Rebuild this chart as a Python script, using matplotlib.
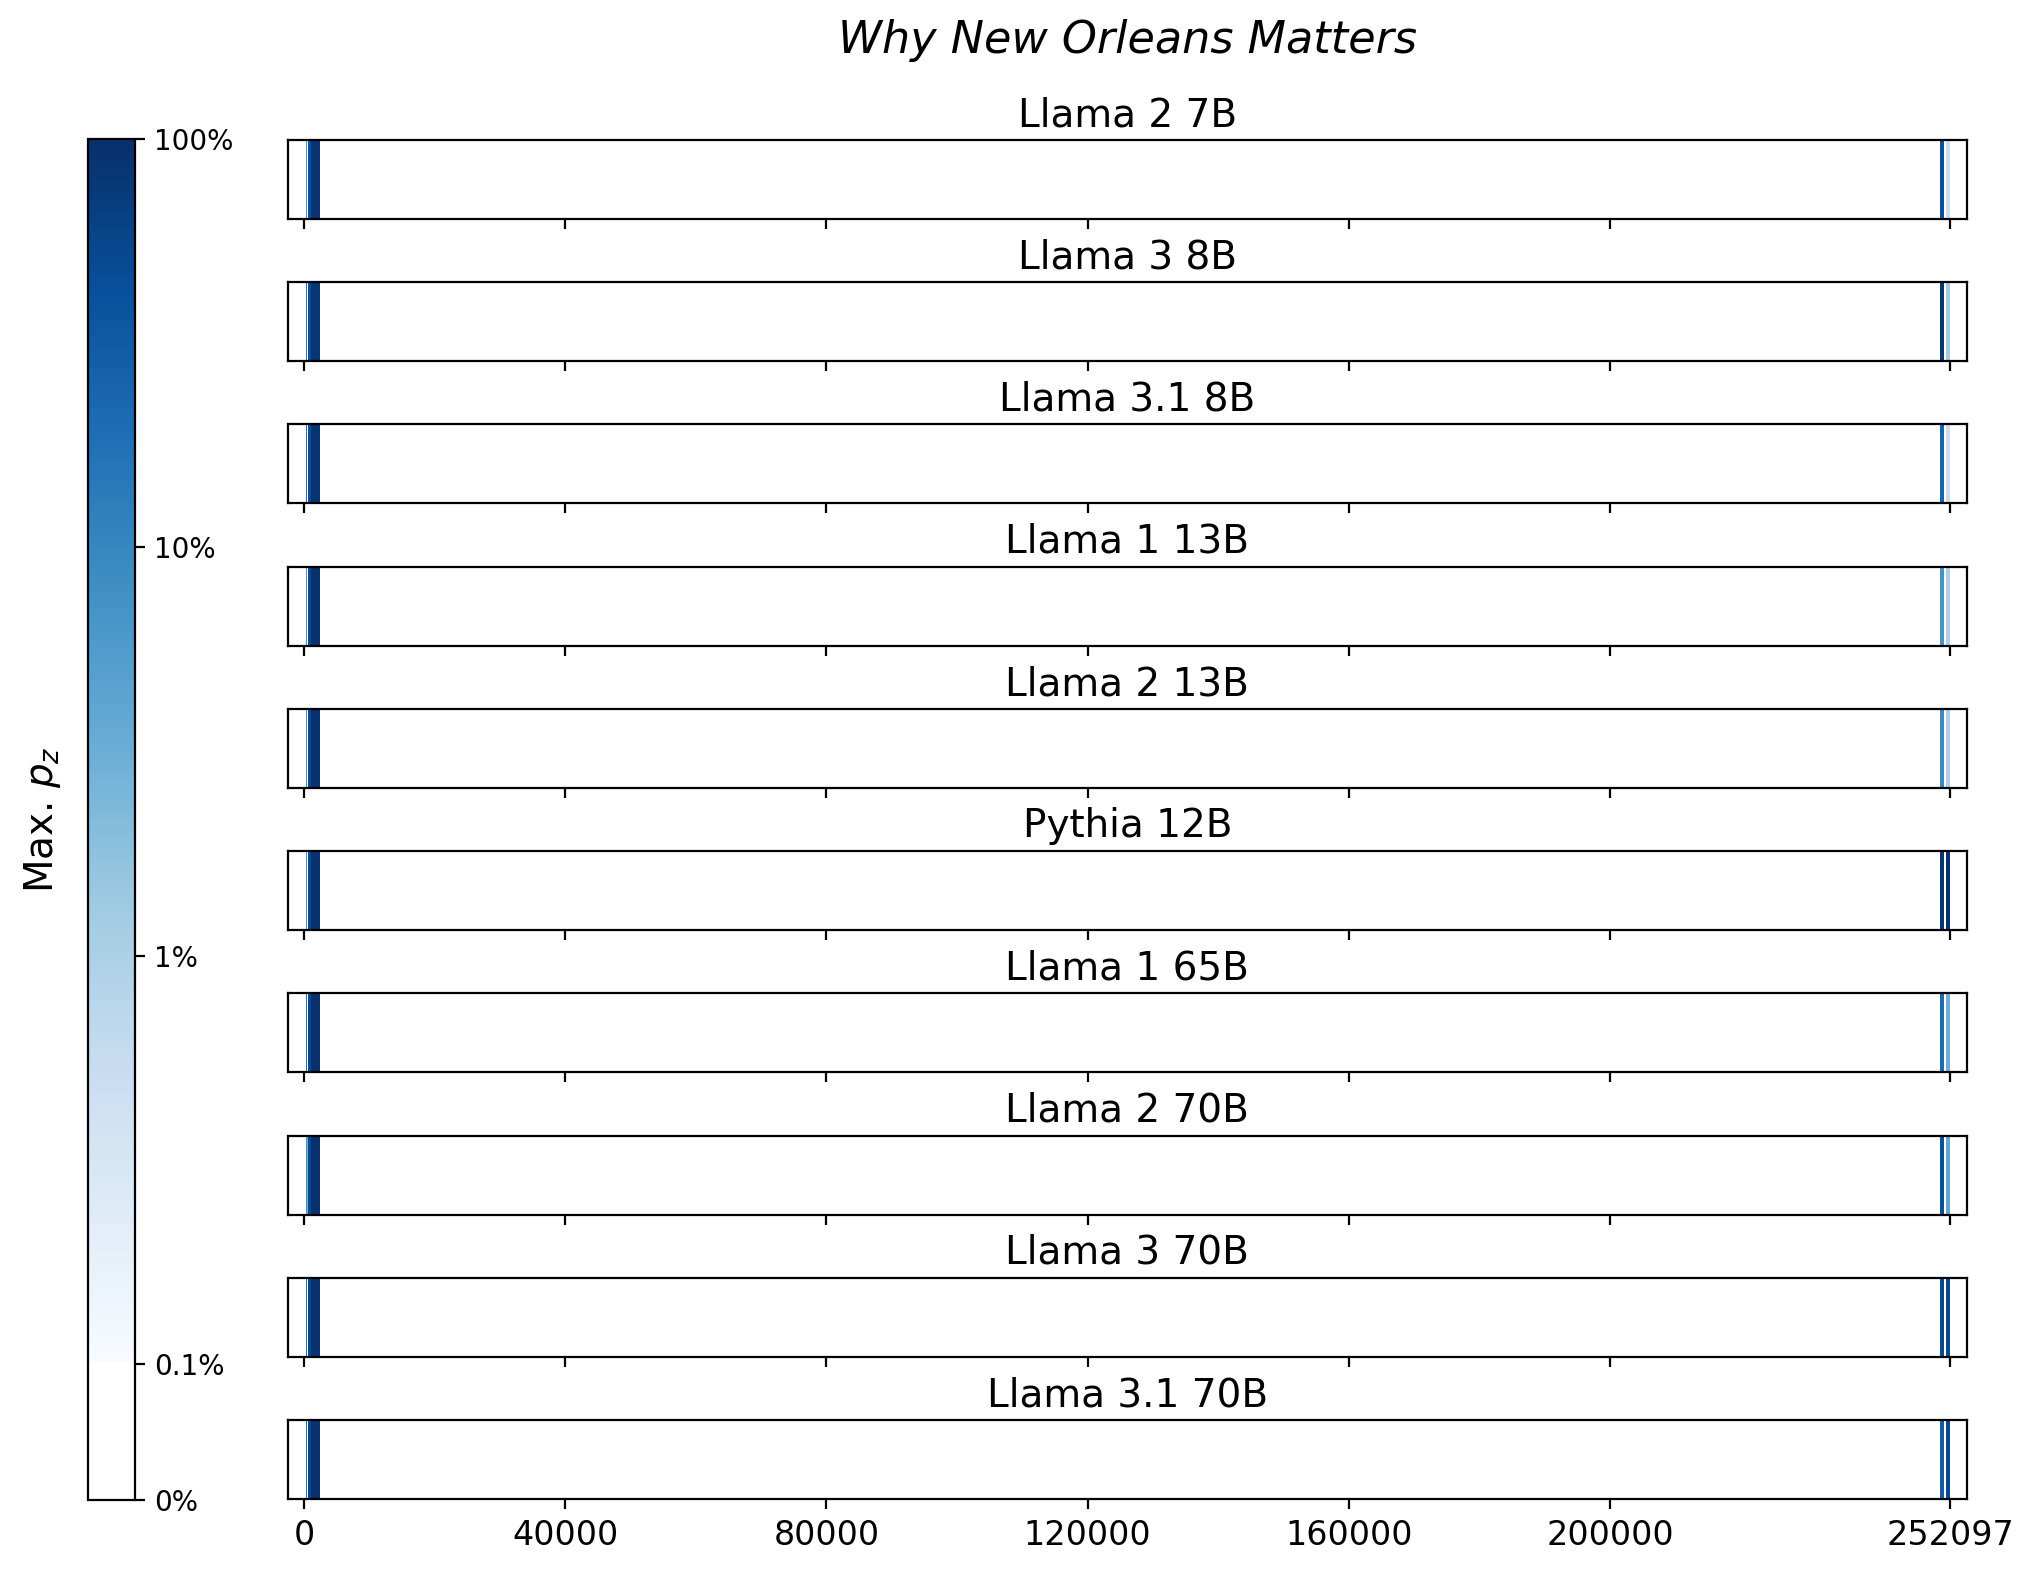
import numpy as np
import matplotlib
matplotlib.use("Agg")
import matplotlib.pyplot as plt
from matplotlib.colors import ListedColormap, SymLogNorm

# models, top to bottom
models = ["Llama 2 7B", "Llama 3 8B", "Llama 3.1 8B", "Llama 1 13B", "Llama 2 13B",
          "Pythia 12B", "Llama 1 65B", "Llama 2 70B", "Llama 3 70B", "Llama 3.1 70B"]

# token-index cell edges shared by every strip
edges = [-2500, 250, 420, 650, 1000, 2400, 250500, 251100, 251500, 252100, 254700]

# max p_z in the non-empty cells (estimated from the colours)
left_line = [0.07, 0.15, 0.18, 0.07, 0.07, 0.07, 0.18, 0.07, 0.18, 0.18]
left_gap = [0, 0, 0, 0, 0, 0, 0, 0.03, 0, 0]
band_edge = [0.4, 0.45, 0.45, 0.5, 0.5, 0.5, 0.5, 0.5, 0.5, 0.5]
band_main = [0.9, 0.85, 0.9, 0.95, 0.95, 0.95, 0.95, 0.95, 0.95, 0.95]
right_a = [0.4, 0.8, 0.25, 0.07, 0.09, 0.8, 0.2, 0.4, 0.5, 0.3]
right_b = [0.005, 0.0125, 0.005, 0.01, 0.01, 0.9, 0.03, 0.04, 0.5, 0.5]

xticks = [0, 40000, 80000, 120000, 160000, 200000, 252097]
cbar_ticks = [0, 0.001, 0.01, 0.1, 1]
cbar_labels = ["0%", "0.1%", "1%", "10%", "100%"]

blues = plt.get_cmap("Blues")
cols = np.vstack([np.ones((26, 4)), blues(np.linspace(0, 1, 230))])
cmap = ListedColormap(cols)
norm = SymLogNorm(linthresh=0.001, linscale=0.3, vmin=0, vmax=1, base=10)

fig = plt.figure(figsize=(10.175, 7.865), dpi=200)
gs = fig.add_gridspec(len(models), 1, left=0.1414, right=0.9666,
                      top=0.911, bottom=0.047, hspace=0.8)

axes = []
for i, name in enumerate(models):
    ax = fig.add_subplot(gs[i, 0], sharex=axes[0] if axes else None)
    vals = [0, left_line[i], left_gap[i], band_edge[i], band_main[i],
            0, right_a[i], 0, right_b[i], 0]
    mesh = ax.pcolormesh(edges, [0, 1], np.array([vals]), cmap=cmap, norm=norm)
    ax.set_title(name, fontsize=14, pad=5)
    ax.set_yticks([])
    ax.set_xlim(-2500, 254700)
    ax.set_ylim(0, 1)
    ax.set_xticks(xticks)
    if i < len(models) - 1:
        ax.tick_params(labelbottom=False)
    else:
        ax.tick_params(labelsize=12)
    axes.append(ax)

cax = fig.add_axes([0.0432, 0.0464, 0.0231, 0.8652])
cb = fig.colorbar(mesh, cax=cax)
cb.set_ticks(cbar_ticks)
cb.set_ticklabels(cbar_labels)
cb.ax.tick_params(labelsize=10)
cb.ax.minorticks_off()
cb.ax.yaxis.set_label_position("left")
cb.set_label("Max. $p_z$", fontsize=14, labelpad=9)

fig.suptitle("Why New Orleans Matters", fontsize=16, style="italic",
             x=0.554, y=0.988)

fig.savefig("out.png", dpi=200)
